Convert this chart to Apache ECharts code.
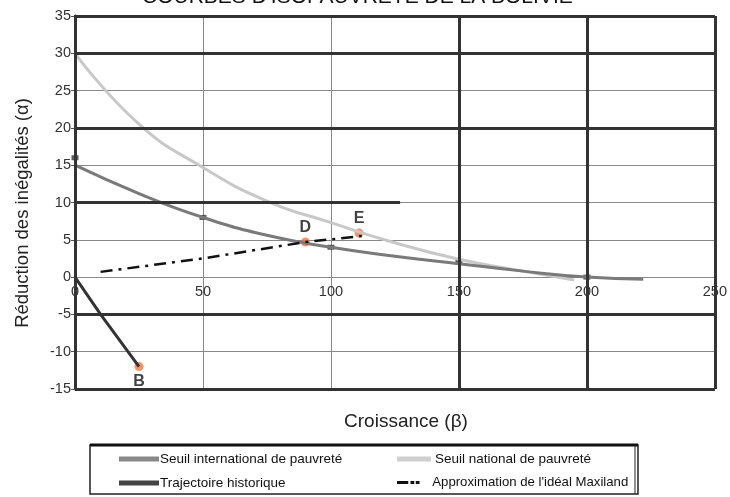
<!DOCTYPE html>
<html><head><meta charset="utf-8">
<script src="https://cdn.jsdelivr.net/npm/echarts@6/dist/echarts.min.js"></script>
<style>html,body{margin:0;padding:0;background:#fff}#c{width:730px;height:497px}</style>
</head><body><div id="c"></div>
<script>
const titleText = "COURBES D'ISOPAUVRETE DE LA BOLIVIE";
const xName = "Croissance (β)";
const yName = "Réduction des inégalités (α)";
const seriesNames = ["Seuil international de pauvreté","Seuil national de pauvreté","Trajectoire historique","Approximation de l'idéal Maxiland"];
const national = [[0,30],[25,20.5],[50,14.7],[75,10.2],[100,7.3],[125,4.6],[150,2.4],[175,0.8],[195,-0.4]];
const international = [[0,15],[25,11.2],[50,8],[75,5.6],[100,4],[125,2.8],[150,1.8],[175,0.8],[200,0],[222,-0.3]];
const intlMarkers = [[0,16],[50,8],[100,4],[150,2],[200,0]];
const historique = [[0,0],[10,-5],[25,-12]];
const maxiland = [[10,0.7],[50,2.5],[90,4.7],[112,5.5]];
const points = [{name:'D',value:[90,4.7],pos:'top'},{name:'E',value:[111,5.9],pos:'top'},{name:'B',value:[25,-12],pos:'bottom'}];
const thickY = [35,30,20,-5,-15];
const thickX = [0,150,200,250];
const partialY = [[0,10],[127,10]];

const chart = echarts.init(document.getElementById('c'));
const font = "'Liberation Sans', Arial, sans-serif";
const thick = {color:'#333', width:3, type:'solid'};
const legendColors = ['#888','#cfcfcf','#444','#111'];
const dashIcon = 'path://M0,0h15v4h-15z M18,0h5v4h-5z M25,0h5v4h-5z';
chart.setOption({
  animation:false,
  title:{text:titleText,left:137,top:-18,textStyle:{fontFamily:font,fontSize:21,fontWeight:'normal',color:'#111'}},
  grid:{left:75,right:13,top:16,bottom:108},
  xAxis:{type:'value',min:0,max:250,interval:50,offset:-112,
    axisLine:{onZero:false,lineStyle:{color:'#888',width:1}},
    axisTick:{show:false},
    axisLabel:{fontFamily:font,fontSize:14.5,color:'#333',margin:7},
    splitLine:{lineStyle:{color:'#888',width:1}}
  },
  yAxis:{type:'value',min:-15,max:35,interval:5,
    axisLine:{show:true,onZero:false,lineStyle:{color:'#111',width:3}},
    axisTick:{show:true,length:4,lineStyle:{color:'#555'}},
    axisLabel:{fontFamily:font,fontSize:14.5,color:'#333',margin:4},
    splitLine:{lineStyle:{color:'#888',width:1}}
  },
  legend:[0,1,2,3].map((i)=>({
    data:[{name:seriesNames[i],icon:i===3?dashIcon:'rect',itemStyle:{color:legendColors[i]}}],
    left:[114,392,114,392][i], top:[447,447,471,471][i],
    itemWidth:[40,34,40,30][i],itemHeight:i===3?3:5,itemGap:0,
    textStyle:{fontFamily:font,fontSize:[13.5,13.5,13.5,13.2][i],color:'#111',padding:[0,0,0,[-4,-1,-4,4][i]]}
  })),
  graphic:[
    {type:'rect',shape:{x:90,y:445,width:548,height:49},style:{fill:'none',stroke:'#222',lineWidth:1.5},silent:true},
    {type:'line',shape:{x1:90,y1:445,x2:638,y2:445},style:{stroke:'#111',lineWidth:3},silent:true},
    {type:'line',shape:{x1:635,y1:445,x2:635,y2:494},style:{stroke:'#222',lineWidth:1},silent:true},
    {type:'text',style:{text:xName,x:406,y:422,align:'center',verticalAlign:'middle',fontFamily:font,fontSize:19,fill:'#222'},silent:true},
    {type:'text',x:23,y:213,rotation:Math.PI/2,style:{text:yName,align:'center',verticalAlign:'middle',fontFamily:font,fontSize:18.5,fill:'#222'},silent:true}
  ],
  series:[
    {name:'grid-thick',type:'line',data:[],silent:true,
      markLine:{silent:true,symbol:'none',label:{show:false},lineStyle:thick,
        data:thickY.map(v=>({yAxis:v})).concat(thickX.map(v=>({xAxis:v}))).concat([[{coord:partialY[0]},{coord:partialY[1]}]])}},
    {name:seriesNames[1],type:'line',data:national,smooth:true,symbol:'none',lineStyle:{color:'#c8c8c8',width:3},itemStyle:{color:'#c8c8c8'}},
    {name:seriesNames[0],type:'line',data:international,smooth:true,symbol:'none',lineStyle:{color:'#7a7a7a',width:3},itemStyle:{color:'#7a7a7a'}},
    {name:'intl-markers',type:'scatter',data:intlMarkers,symbol:'rect',symbolSize:[7,5],itemStyle:{color:'#333'},silent:true},
    {name:seriesNames[2],type:'line',data:historique,symbol:'none',lineStyle:{color:'#333',width:3},itemStyle:{color:'#333'}},
    {name:seriesNames[3],type:'line',data:maxiland,symbol:'none',lineStyle:{color:'#111',width:2.5,type:[12,6,3,6]},itemStyle:{color:'#111'}},
    {name:'points',type:'scatter',data:points.map(p=>({name:p.name,value:p.value,label:{position:p.pos}})),
      symbolSize:9,itemStyle:{color:'#f07840'},
      label:{show:true,formatter:'{b}',fontFamily:font,fontSize:16,fontWeight:'bold',color:'#111',distance:2}}
  ]
});
</script></body></html>
